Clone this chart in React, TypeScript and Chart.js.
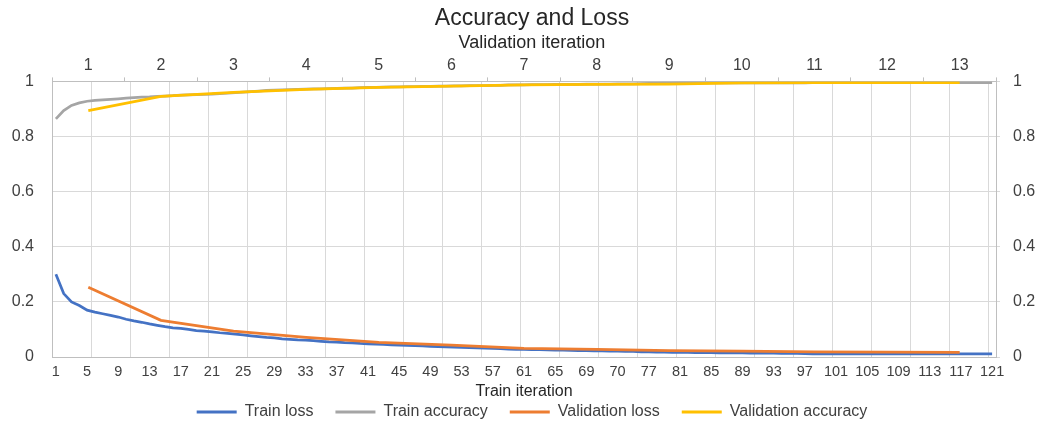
import React, { useEffect, useRef } from 'react';
import { Chart, registerables } from 'chart.js';

Chart.register(...registerables);

// Train iterations 1..121 (categories of the bottom axis)
const trainIterations: number[] = Array.from({ length: 121 }, (_, i) => i + 1);
// Bottom-axis tick labels as printed in the original (every 4th iteration)
const bottomTickLabels = ['1', '5', '9', '13', '17', '21', '25', '29', '33', '37', '41', '45', '49', '53', '57', '61', '65', '69', '70', '77', '81', '85', '89', '93', '97', '101', '105', '109', '113', '117', '121'];
// Validation iterations (top axis)
const validationIterations = [1, 2, 3, 4, 5, 6, 7, 8, 9, 10, 11, 12, 13];
const yTickLabels = ['0', '0.2', '0.4', '0.6', '0.8', '1'];

const trainLoss = [
  0.300, 0.230, 0.200, 0.187, 0.170, 0.163, 0.157, 0.151, 0.145, 0.137,
  0.131, 0.126, 0.120, 0.115, 0.110, 0.106, 0.104, 0.100, 0.096, 0.094,
  0.091, 0.088, 0.086, 0.083, 0.080, 0.077, 0.074, 0.071, 0.069, 0.066,
  0.064, 0.062, 0.061, 0.059, 0.057, 0.055, 0.054, 0.052, 0.051, 0.049,
  0.048, 0.047, 0.046, 0.044, 0.043, 0.042, 0.041, 0.040, 0.039, 0.038,
  0.037, 0.036, 0.035, 0.034, 0.033, 0.032, 0.031, 0.030, 0.029, 0.028,
  0.028, 0.027, 0.027, 0.026, 0.025, 0.025, 0.024, 0.023, 0.023, 0.022,
  0.022, 0.021, 0.021, 0.020, 0.020, 0.019, 0.019, 0.018, 0.018, 0.017,
  0.017, 0.017, 0.016, 0.016, 0.016, 0.015, 0.015, 0.015, 0.015, 0.014,
  0.014, 0.014, 0.014, 0.013, 0.013, 0.013, 0.012, 0.011, 0.011, 0.011,
  0.011, 0.011, 0.011, 0.011, 0.011, 0.011, 0.011, 0.011, 0.011, 0.011,
  0.011, 0.011, 0.011, 0.011, 0.011, 0.011, 0.011, 0.011, 0.011, 0.011,
  0.011,
];

const trainAccuracy = [
  0.864, 0.894, 0.913, 0.922, 0.928, 0.931, 0.933, 0.935, 0.937, 0.939,
  0.941, 0.943, 0.944, 0.946, 0.947, 0.948, 0.950, 0.951, 0.952, 0.953,
  0.954, 0.956, 0.957, 0.959, 0.961, 0.963, 0.965, 0.967, 0.968, 0.969,
  0.970, 0.971, 0.972, 0.973, 0.973, 0.974, 0.975, 0.976, 0.976, 0.977,
  0.978, 0.978, 0.979, 0.980, 0.980, 0.981, 0.981, 0.982, 0.982, 0.983,
  0.983, 0.984, 0.984, 0.985, 0.985, 0.985, 0.986, 0.986, 0.987, 0.987,
  0.987, 0.988, 0.988, 0.988, 0.989, 0.989, 0.989, 0.989, 0.990, 0.990,
  0.990, 0.990, 0.991, 0.991, 0.991, 0.992, 0.993, 0.993, 0.994, 0.994,
  0.995, 0.995, 0.995, 0.995, 0.995, 0.995, 0.995, 0.995, 0.995, 0.995,
  0.995, 0.995, 0.995, 0.995, 0.995, 0.995, 0.995, 0.996, 0.996, 0.996,
  0.996, 0.996, 0.996, 0.996, 0.996, 0.996, 0.996, 0.996, 0.996, 0.996,
  0.996, 0.996, 0.996, 0.996, 0.996, 0.996, 0.996, 0.996, 0.996, 0.996,
  0.996,
];

const validationLoss = [0.253, 0.133, 0.094, 0.071, 0.053, 0.043, 0.031, 0.028, 0.023, 0.021, 0.019, 0.018, 0.017];
const validationAccuracy = [0.894, 0.946, 0.960, 0.971, 0.978, 0.983, 0.987, 0.989, 0.990, 0.995, 0.996, 0.996, 0.996];

const FONT = "'Liberation Sans', Arial, Helvetica, sans-serif";
const GRID = '#D9D9D9';
const AXIS = '#BFBFBF';
const TEXT = '#404040';
const TITLE = '#262626';
const NONE = 'rgba(0,0,0,0)';

const BLUE = '#4472C4';
const GRAY = '#A5A5A5';
const ORANGE = '#ED7D31';
const GOLD = '#FFC000';

// shifts the full-width blocks (title, subtitle, legend) a little to the right, as in the original
const shiftBlocks = {
  id: 'shiftBlocks',
  afterLayout(chart: any) {
    chart.boxes.forEach((b: any) => {
      if (b.fullSize && !b.axis) b.left += 18;
    });
  },
};

export default function App() {
  const ref = useRef<HTMLCanvasElement>(null);

  useEffect(() => {
    document.body.style.margin = '0';
    const canvas = ref.current;
    if (!canvas) return;

    const trainPts = (arr: number[]) => trainIterations.map((x, i) => ({ x, y: arr[i] }));
    const valPts = (arr: number[]) => validationIterations.map((x, i) => ({ x, y: arr[i] }));

    const xGridTicks: number[] = [];
    for (let k = 0; k * 5 + 0.5 <= trainIterations.length; k++) xGridTicks.push(0.5 + 5 * k);
    const xLabelTicks = bottomTickLabels.map((_, i) => 1 + 4 * i);
    const x2BoundTicks = [0.5, ...validationIterations.map((v) => v + 0.5)];

    const lineDs = (label: string, data: any[], color: string, xAxisID: string, order: number) => ({
      label,
      data,
      borderColor: color,
      backgroundColor: color,
      borderWidth: 2.75,
      pointRadius: 0,
      pointHoverRadius: 0,
      tension: 0,
      fill: false,
      xAxisID,
      yAxisID: 'y',
      order,
    });

    const chart = new Chart(canvas, {
      type: 'line',
      data: {
        datasets: [
          lineDs('Train loss', trainPts(trainLoss), BLUE, 'x', 2),
          lineDs('Train accuracy', trainPts(trainAccuracy), GRAY, 'x', 2),
          lineDs('Validation loss', valPts(validationLoss), ORANGE, 'x2', 1),
          lineDs('Validation accuracy', valPts(validationAccuracy), GOLD, 'x2', 1),
        ],
      },
      plugins: [shiftBlocks],
      options: {
        responsive: false,
        animation: false,
        devicePixelRatio: 1,
        layout: { padding: 0 },
        plugins: {
          tooltip: { enabled: false },
          title: {
            display: true,
            text: 'Accuracy and Loss',
            color: TITLE,
            font: { family: FONT, size: 23, weight: 'normal' },
            padding: { top: 5, bottom: 0 },
          },
          subtitle: {
            display: true,
            text: 'Validation iteration',
            color: TITLE,
            font: { family: FONT, size: 18, weight: 'normal' },
            padding: { top: 0, bottom: 0 },
          },
          legend: {
            position: 'bottom',
            labels: {
              color: TEXT,
              font: { family: FONT, size: 16 },
              boxWidth: 40,
              boxHeight: 3,
              padding: 22,
              sort: (a: any, b: any) => a.datasetIndex - b.datasetIndex,
              generateLabels: (c: any) =>
                Chart.defaults.plugins.legend.labels.generateLabels(c).map((l: any) => ({ ...l, lineWidth: 0 })),
            },
          },
        },
        scales: {
          x: {
            type: 'linear',
            position: 'bottom',
            min: 0.5,
            max: trainIterations.length + 0.5,
            afterBuildTicks: (s: any) => {
              const vals = [...xGridTicks, ...xLabelTicks].sort((a, b) => a - b);
              s.ticks = vals.map((v) => ({ value: v }));
            },
            afterFit: (s: any) => {
              s.height = 25;
            },
            ticks: {
              autoSkip: false,
              maxRotation: 0,
              minRotation: 0,
              padding: 6,
              color: TEXT,
              font: { family: FONT, size: 14.5 },
              callback: (value: any) => {
                const v = Number(value);
                if (Number.isInteger(v) && (v - 1) % 4 === 0) return bottomTickLabels[(v - 1) / 4];
                return '';
              },
            },
            grid: {
              drawTicks: false,
              color: (c: any) => (c.tick && Number.isInteger(c.tick.value) ? NONE : GRID),
              lineWidth: 1,
            },
            border: { display: true, color: AXIS, width: 1 },
            title: {
              display: true,
              text: 'Train iteration',
              color: TITLE,
              font: { family: FONT, size: 16 },
              padding: { top: 0, bottom: -19 },
            },
          },
          x2: {
            type: 'linear',
            position: 'top',
            min: 0.5,
            max: validationIterations.length + 0.5,
            afterBuildTicks: (s: any) => {
              const vals = [...x2BoundTicks, ...validationIterations].sort((a, b) => a - b);
              s.ticks = vals.map((v) => ({ value: v }));
            },
            ticks: {
              autoSkip: false,
              maxRotation: 0,
              minRotation: 0,
              padding: 2,
              color: TEXT,
              font: { family: FONT, size: 16 },
              callback: (value: any) => {
                const v = Number(value);
                return Number.isInteger(v) ? String(validationIterations[v - 1]) : '';
              },
            },
            grid: {
              drawOnChartArea: false,
              drawTicks: true,
              tickLength: 4,
              color: (c: any) => (c.tick && Number.isInteger(c.tick.value) ? NONE : AXIS),
            },
            border: { display: true, color: AXIS, width: 1 },
          },
          y: {
            type: 'linear',
            position: 'left',
            min: 0,
            max: 1,
            afterFit: (s: any) => {
              s.width = 52;
            },
            ticks: {
              stepSize: 0.2,
              padding: 18,
              color: TEXT,
              font: { family: FONT, size: 16 },
              callback: (_v: any, i: number) => yTickLabels[i],
            },
            grid: { drawTicks: false, color: GRID, lineWidth: 1 },
            border: { display: true, color: AXIS, width: 1 },
          },
          y2: {
            type: 'linear',
            position: 'right',
            min: 0,
            max: 1,
            afterFit: (s: any) => {
              s.width = 50;
            },
            ticks: {
              stepSize: 0.2,
              padding: 13,
              color: TEXT,
              font: { family: FONT, size: 16 },
              callback: (_v: any, i: number) => yTickLabels[i],
            },
            grid: { drawOnChartArea: false, drawTicks: true, tickLength: 4, color: GRID },
            border: { display: true, color: AXIS, width: 1 },
          },
        },
      } as any,
    });

    return () => chart.destroy();
  }, []);

  return <canvas ref={ref} width={1046} height={430} style={{ display: 'block' }} />;
}
